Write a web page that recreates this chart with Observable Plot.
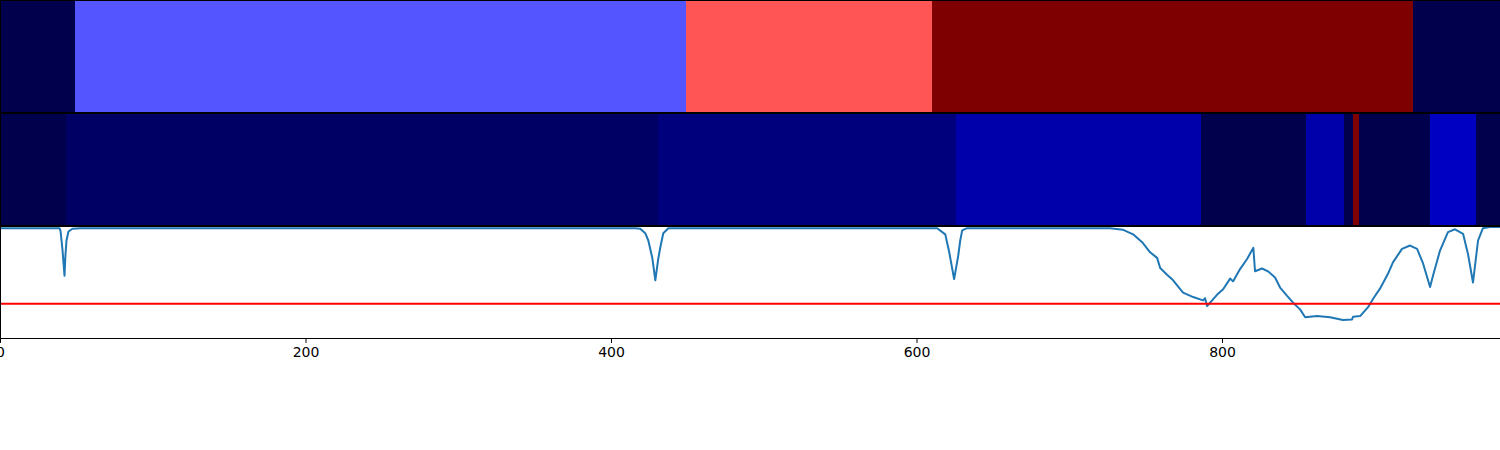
<!DOCTYPE html>
<html>
<head>
<meta charset="utf-8">
<script src="https://cdn.jsdelivr.net/npm/d3@7"></script>
<script src="https://cdn.jsdelivr.net/npm/@observablehq/plot@0.6"></script>
<style>
  html, body { margin: 0; padding: 0; background: #ffffff; }
</style>
</head>
<body>
<div id="chart"></div>
<script>
// ---- Data ----
// Top strip: segment boundaries and labels (colour = label / topMax on "seismic")
const topBounds = [0, 49, 449, 610, 925, 982];
const topLabels = [0, 1, 2, 3, 0];
const topMax = 3;

// Middle strip
const midBounds = [0, 43, 431, 626, 786, 855, 880, 885.5, 889.5, 936.5, 966, 982];
const midLabels = [0, 1, 2, 4, 0, 4, 0, 30, 0, 5, 0];
const midMax = 30;

// Bottom panel: signal curve
const lineX = [0, 36, 38.6, 39.3, 40.6, 41.9, 42.5, 43.2, 44.5, 47.1, 52.4,
  415.6, 418.8, 422.1, 424.1, 426.7, 428.7, 430.6, 431.9, 433.9, 437.2,
  610, 613.2, 618.5, 621.1, 624.3, 627, 628.3, 629.6, 632.8,
  706.8, 726.4, 735, 741.5, 747.4, 752.6, 757.2, 759.2, 763.7, 767.7, 772.3, 774.2,
  780.8, 787.3, 788.6, 789.9, 793.2, 797.1, 800.4, 805, 806.9, 811.5, 816.1, 820.2,
  821.3, 825.9, 829.8, 834.4, 837.7, 842.3, 846.2, 850.8, 854.1, 861.9, 870.4, 878.9,
  884.8, 885.5, 890.1, 895.3, 898.6, 903.1, 908.4, 911.6, 917.5, 922.8, 927.4, 931.3,
  935.9, 937.8, 942.4, 947.6, 952.2, 957.5, 960.7, 964, 967.3, 970.5, 975.1, 981.7];
const lineY = [0.985, 0.985, 0.985, 0.96, 0.79, 0.56, 0.74, 0.875, 0.955, 0.98, 0.985,
  0.985, 0.98, 0.94, 0.875, 0.72, 0.52, 0.71, 0.81, 0.94, 0.985,
  0.985, 0.985, 0.93, 0.77, 0.53, 0.74, 0.875, 0.965, 0.985,
  0.985, 0.985, 0.97, 0.93, 0.86, 0.77, 0.72, 0.63, 0.57, 0.52, 0.44, 0.41,
  0.37, 0.34, 0.36, 0.29, 0.34, 0.40, 0.44, 0.535, 0.51, 0.62, 0.71, 0.81,
  0.60, 0.625, 0.60, 0.545, 0.455, 0.38, 0.32, 0.26, 0.19, 0.20, 0.19, 0.165,
  0.17, 0.195, 0.20, 0.28, 0.355, 0.445, 0.58, 0.68, 0.80, 0.83, 0.80, 0.67,
  0.46, 0.56, 0.785, 0.95, 0.975, 0.935, 0.755, 0.50, 0.875, 0.985, 0.995, 0.995];

const threshold = [0.31];
const xTicks = [0, 200, 400, 600, 800];
const panels = ["top", "mid", "bot"];
const seismic = ["#00004c", "#0000ff", "#ffffff", "#ff0000", "#7f0000"];

// ---- Build tables ----
const segs = [];
function addSegs(bounds, labels, max, panel) {
  for (let i = 0; i < labels.length; i++) {
    segs.push({x1: bounds[i], x2: bounds[i + 1], t: labels[i] / max, panel});
  }
}
addSegs(topBounds, topLabels, topMax, "top");
addSegs(midBounds, midLabels, midMax, "mid");

const line = lineX.map((x, i) => ({x, v: lineY[i], panel: "bot"}));
const thr = threshold.map(v => ({v, panel: "bot"}));

const chart = Plot.plot({
  width: 1500,
  height: 450,
  marginTop: 0,
  marginLeft: 0,
  marginRight: 0,
  marginBottom: 112,
  style: {fontFamily: "DejaVu Sans", fontSize: "14px", background: "#ffffff", color: "#000"},
  x: {domain: [0, 982], ticks: xTicks, tickSize: 4.9, tickPadding: 3.5, label: null},
  y: {domain: [0, 1], axis: null},
  fy: {domain: panels, axis: null, paddingInner: 0.00885, paddingOuter: 0},
  color: {type: "linear", domain: [0, 0.25, 0.5, 0.75, 1], range: seismic, interpolate: "rgb"},
  marks: [
    Plot.rect(segs, {x1: "x1", x2: "x2", fill: "t", fy: "panel", shapeRendering: "crispEdges"}),
    Plot.line(line, {x: "x", y: "v", fy: "panel", stroke: "#1f77b4", strokeWidth: 2}),
    Plot.ruleY(thr, {y: "v", fy: "panel", stroke: "red", strokeWidth: 2}),
    Plot.frame({stroke: "black", strokeWidth: 1})
  ]
});
document.getElementById("chart").appendChild(chart);
</script>
</body>
</html>
